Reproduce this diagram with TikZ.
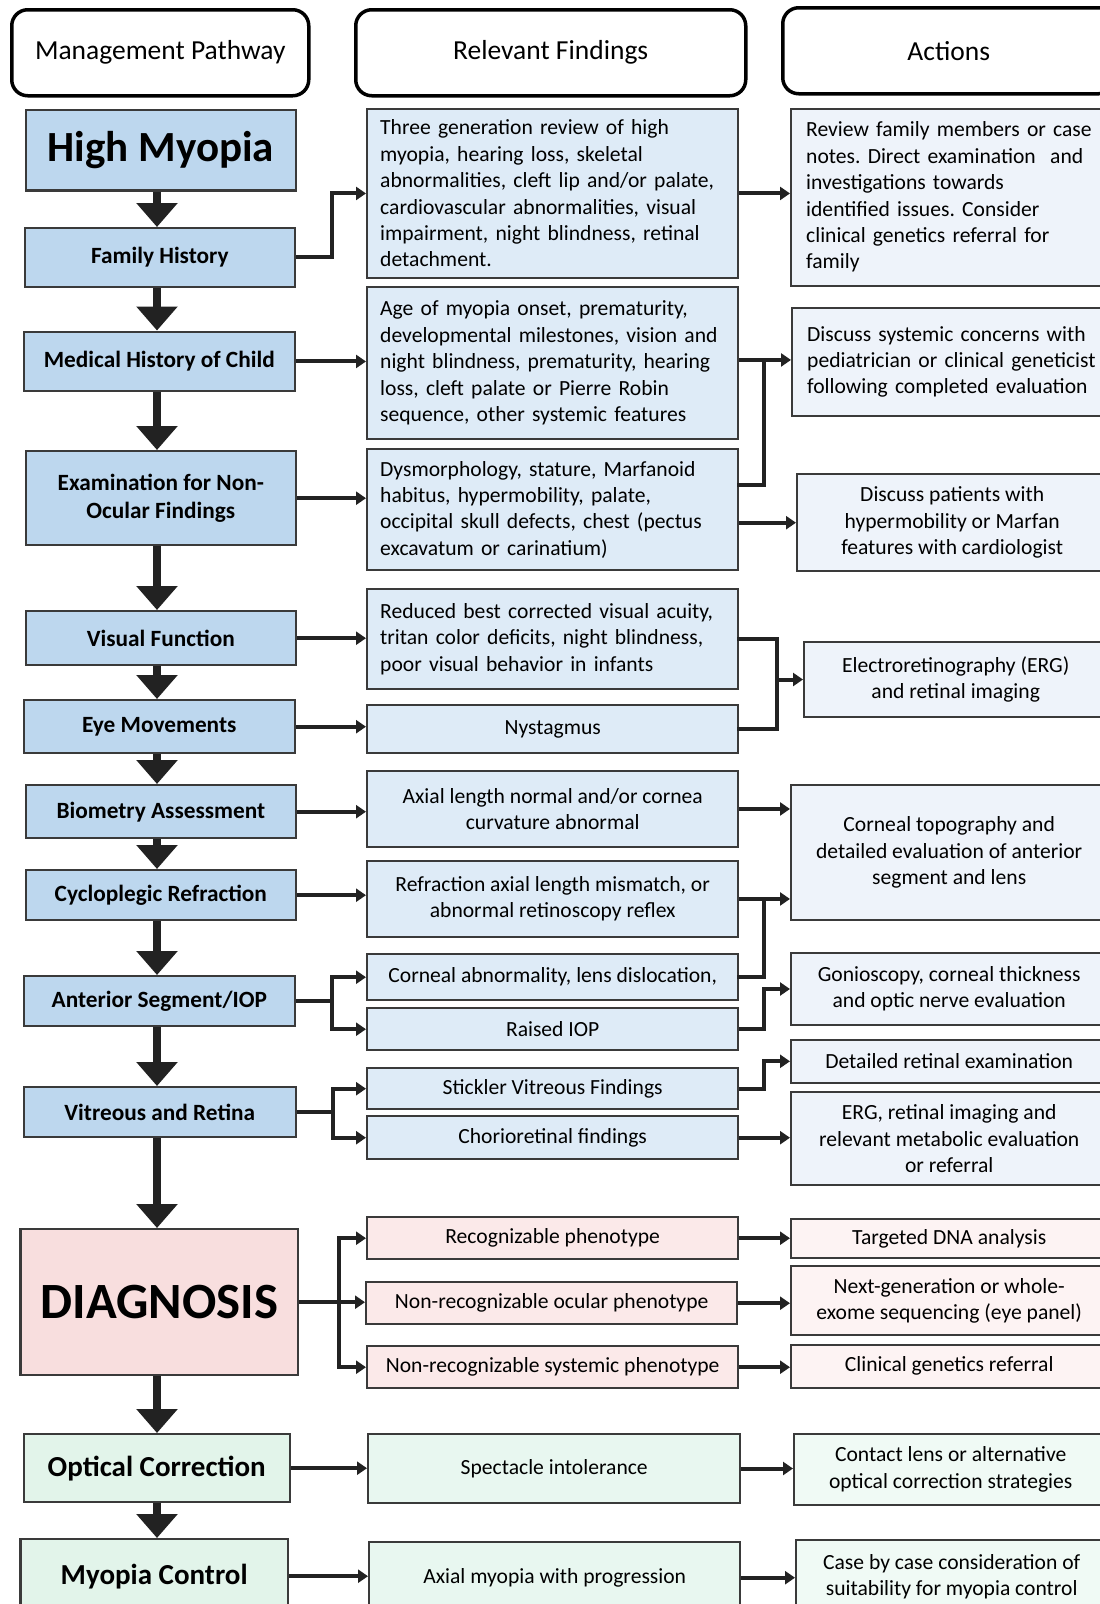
\documentclass[tikz,border=0pt]{standalone}
\usepackage{fontspec}
\setmainfont{Carlito}
\usetikzlibrary{arrows.meta,calc}
\frenchspacing
\definecolor{lblue}{HTML}{BDD7EE}
\definecolor{mblue}{HTML}{DEEBF7}
\definecolor{rblue}{HTML}{EEF3FA}
\definecolor{lpinkc}{HTML}{F8DEDE}
\definecolor{mpinkc}{HTML}{FBE9E9}
\definecolor{rpinkc}{HTML}{FDF3F3}
\definecolor{lgreenc}{HTML}{E2F4EA}
\definecolor{mgreenc}{HTML}{E8F7F0}
\definecolor{rgreenc}{HTML}{F0FAF5}
\definecolor{edge}{HTML}{3A3A3A}
\definecolor{arr}{HTML}{222222}
\newcommand\drawbox[7]{\node[#2, anchor=north west, minimum width={(#5)-(#3)}, minimum height={(#6)-(#4)}] (#1) at (#3,#4) {#7};}
\tikzset{
  basebox/.style={draw=edge, line width=2.4pt, inner sep=0pt, inner xsep=13pt, align=center,
    font=\frenchspacing\fontsize{21.6pt}{26.4pt}\selectfont},
  lbox/.style={basebox, fill=lblue, font=\bfseries\fontsize{23.3pt}{28.7pt}\selectfont},
  lpink/.style={basebox, fill=lpinkc, font=\bfseries\fontsize{50.8pt}{56pt}\selectfont},
  lgreen/.style={basebox, fill=lgreenc, font=\bfseries\fontsize{29pt}{34pt}\selectfont},
  mbox/.style={basebox, fill=mblue},
  mboxl/.style={mbox, align=left, text width=345pt},
  mpink/.style={basebox, fill=mpinkc},
  mgreen/.style={basebox, fill=mgreenc},
  rbox/.style={basebox, fill=rblue},
  rboxl/.style={rbox, align=left, text width=300pt, inner xsep=15pt},
  rpink/.style={basebox, fill=rpinkc},
  rgreen/.style={basebox, fill=rgreenc},
  header/.style={draw=black, line width=3.5pt, rounded corners=16pt, fill=white,
    font=\fontsize{27.5pt}{32pt}\selectfont},
  conn/.style={draw=arr, line width=4pt, -{Triangle[width=13pt,length=10pt]}},
  jl/.style={draw=arr, line width=4pt, line cap=rect},
  bigarrow/.style={draw=arr, line width=8pt, -{Triangle[width=40pt,length=24pt]}}
}
\begin{document}
\begin{tikzpicture}[x=1pt,y=-1pt]
\useasboundingbox (0,0) rectangle (1100,1604);
\fill[white] (0,0) rectangle (1100,1604);
% headers
\drawbox{h1}{header}{10}{8}{307}{94}{Management Pathway}
\drawbox{h2}{header}{354}{8}{744}{94}{Relevant Findings}
\drawbox{h3}{header}{781}{6}{1113}{92}{Actions}
% left column
\drawbox{hm}{lbox, font=\bfseries\fontsize{43pt}{50pt}\selectfont}{24.6}{108.5}{294.7}{189.3}{High Myopia}
\drawbox{fh}{lbox}{23.5}{227}{293.7}{285.5}{Family History}
\drawbox{mh}{lbox}{22.5}{330.5}{293.7}{390}{Medical History of Child}
\drawbox{ex}{lbox}{24.6}{450}{294.7}{544}{Examination for Non-\\Ocular Findings}
\drawbox{vf}{lbox}{24.6}{610}{294.7}{664}{Visual Function}
\drawbox{em}{lbox}{22.5}{699}{293.7}{752}{Eye Movements}
\drawbox{ba}{lbox}{24.6}{784}{294.7}{837}{Biometry Assessment}
\drawbox{cr}{lbox}{24.6}{869}{294.7}{919}{Cycloplegic Refraction}
\drawbox{as}{lbox}{22.5}{975}{293.7}{1025}{Anterior Segment/IOP}
\drawbox{vr}{lbox}{22.5}{1086}{294.7}{1136}{Vitreous and Retina}
\drawbox{dg}{lpink}{19.4}{1228}{296.8}{1374}{DIAGNOSIS}
\drawbox{oc}{lgreen}{22.5}{1433}{288.6}{1501}{Optical Correction}
\drawbox{mc}{lgreen}{19.4}{1538}{286.5}{1612}{Myopia Control}
% middle column
\drawbox{f1}{mboxl}{366}{107.5}{737}{277}{Three generation review of high\\myopia, hearing loss, skeletal\\abnormalities, cleft lip and/or palate,\\cardiovascular abnormalities, visual\\impairment, night blindness, retinal\\detachment.}
\drawbox{f2}{mboxl}{366}{285.5}{737}{438}{Age of myopia onset, prematurity,\\developmental milestones, vision and\\night blindness, prematurity, hearing\\loss, cleft palate or Pierre Robin\\sequence, other systemic features}
\drawbox{f3}{mboxl}{366}{448}{737}{569}{Dysmorphology, stature, Marfanoid\\habitus, hypermobility, palate,\\occipital skull defects, chest (pectus\\excavatum or carinatium)}
\drawbox{f4}{mboxl}{366}{588}{737}{688}{Reduced best corrected visual acuity,\\tritan color deficits, night blindness,\\poor visual behavior in infants}
\drawbox{nys}{mbox}{366}{704}{737}{752}{Nystagmus}
\drawbox{ax}{mbox}{366}{769.5}{737}{846}{Axial length normal and/or cornea\\curvature abnormal}
\drawbox{rf}{mbox}{366}{859.5}{737}{936}{Refraction axial length mismatch, or\\abnormal retinoscopy reflex}
\drawbox{cab}{mbox}{366}{953}{737}{999}{Corneal abnormality, lens dislocation,}
\drawbox{iop}{mbox}{366}{1007}{737}{1049}{Raised IOP}
\drawbox{stk}{mbox}{366}{1067}{737}{1108}{Stickler Vitreous Findings}
\drawbox{chr}{mbox}{366}{1115}{737}{1158}{Chorioretinal findings}
\drawbox{rec}{mpink}{366}{1216}{737}{1258}{Recognizable phenotype}
\drawbox{ocp}{mpink}{365}{1281}{736}{1323}{Non-recognizable ocular phenotype}
\drawbox{syp}{mpink}{366}{1345}{737}{1387}{Non-recognizable systemic phenotype}
\drawbox{spec}{mgreen}{367}{1432.6}{739}{1502}{Spectacle intolerance}
\drawbox{axm}{mgreen}{368}{1541}{739}{1612}{Axial myopia with progression}
% right column
\drawbox{a1}{rboxl}{790}{107.5}{1106}{284.5}{Review family members or case\\notes. Direct examination~ and\\investigations towards\\identified issues. Consider\\clinical genetics referral for\\family}
\drawbox{a2}{rboxl}{791}{307}{1106}{414.5}{Discuss systemic concerns with\\pediatrician or clinical geneticist\\following completed evaluation}
\drawbox{a3}{rbox}{796}{473}{1106}{570}{Discuss patients with\\hypermobility or Marfan\\features with cardiologist}
\drawbox{erg}{rbox}{803}{640.6}{1106}{716}{Electroretinography (ERG)\\and retinal imaging}
\drawbox{topo}{rbox}{790}{784}{1106}{919}{Corneal topography and\\detailed evaluation of anterior\\segment and lens}
\drawbox{gon}{rbox}{790}{951.6}{1106}{1024}{Gonioscopy, corneal thickness\\and optic nerve evaluation}
\drawbox{det}{rbox}{790}{1038.6}{1106}{1081.6}{Detailed retinal examination}
\drawbox{erg2}{rbox}{790}{1091}{1106}{1184}{ERG, retinal imaging and\\relevant metabolic evaluation\\or referral}
\drawbox{tdna}{rpink}{790}{1218}{1106}{1256.6}{Targeted DNA analysis}
\drawbox{ngs}{rpink}{790}{1265}{1106}{1334}{Next-generation or whole-\\exome sequencing (eye panel)}
\drawbox{cgr}{rpink}{790}{1343.6}{1106}{1386.6}{Clinical genetics referral}
\drawbox{cl}{rgreen}{793}{1432.6}{1106}{1504}{Contact lens or alternative\\optical correction strategies}
\drawbox{cbc}{rgreen}{795}{1539}{1106}{1612}{Case by case consideration of\\suitability for myopia control}
% vertical arrows
\coordinate (vx) at (157,0);
\foreach \a/\b in {hm/fh, fh/mh, mh/ex, ex/vf, vf/em, em/ba, ba/cr, cr/as, as/vr, vr/dg, dg/oc, oc/mc}
  \draw[bigarrow] (vx |- \a.south) -- (vx |- \b.north);
% connectors
\draw[conn] (fh.east) -- ++(36,0) |- (f1.west);
\draw[conn] (f1.east) -- (f1.east -| a1.west);
\draw[conn] (mh.east) -- (mh.east -| f2.west);
\draw[conn] ([yshift=3pt]f2.east) -- ([yshift=3pt]f2.east -| a2.west);
\draw[jl] ([yshift=24.5pt]f3.east) -| ([xshift=25pt,yshift=3pt]f2.east);
\draw[conn] ([yshift=-13pt]f3.east) -- ([yshift=-13pt]f3.east -| a3.west);
\draw[conn] (ex.east) -- (ex.east -| f3.west);
\draw[conn] (vf.east) -- (vf.east -| f4.west);
\draw[conn] (em.east) -- (em.east -| nys.west);
\draw[jl] (f4.east) -- ++(38,0) |- (nys.east);
\draw[conn] ([xshift=38pt]f4.east |- erg.west) -- (erg.west);
\draw[conn] (ba.east) -- (ba.east -| ax.west);
\draw[conn] (ax.east) -- (ax.east -| topo.west);
\draw[conn] (cr.east) -- (cr.east -| rf.west);
\draw[conn] (rf.east) -- (rf.east -| topo.west);
\draw[jl] (cab.east) -| ([xshift=25pt]rf.east);
\draw[conn] (as.east) -- ++(36,0) |- (cab.west);
\draw[conn] (as.east) -- ++(36,0) |- (iop.west);
\draw[conn] (iop.east) -- ++(25,0) |- (gon.west);
\draw[conn] (vr.east) -- ++(36,0) |- (stk.west);
\draw[conn] (vr.east) -- ++(36,0) |- (chr.west);
\draw[conn] (stk.east) -- ++(25,0) |- (det.west);
\draw[conn] (chr.east) -- (chr.east -| erg2.west);
\draw[conn] (dg.east) -- ++(40,0) |- (rec.west);
\draw[conn] (dg.east) -- ++(40,0) |- (syp.west);
\draw[conn] (dg.east) -- (dg.east -| ocp.west);
\draw[conn] (rec.east) -- (rec.east -| tdna.west);
\draw[conn] (ocp.east) -- (ocp.east -| ngs.west);
\draw[conn] (syp.east) -- (syp.east -| cgr.west);
\draw[conn] (oc.east) -- (oc.east -| spec.west);
\draw[conn] (spec.east) -- (spec.east -| cl.west);
\draw[conn] (mc.east) -- (mc.east -| axm.west);
\draw[conn] (axm.east) -- (axm.east -| cbc.west);
\end{tikzpicture}
\end{document}
